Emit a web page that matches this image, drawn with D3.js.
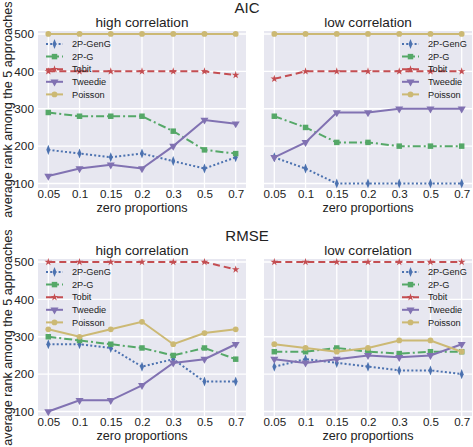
<!DOCTYPE html>
<html><head><meta charset="utf-8">
<script src="https://cdn.jsdelivr.net/npm/d3@7"></script>
<style>
body{margin:0;background:#fff;}
svg{display:block;font-family:"Liberation Sans",Arial,Helvetica,sans-serif;}
</style></head>
<body><svg id="c" width="473" height="447"></svg>
<script>
// ---- data ----
const zeroProps = ["0.05","0.1","0.15","0.2","0.3","0.5","0.7"];
const seriesNames = ["2P-GenG","2P-G","Tobit","Tweedie","Poisson"];
const yTicks = [100,200,300,400,500];

const aicHighGenG    = [190,180,170,180,160,140,170];
const aicHighG       = [290,280,280,280,240,190,180];
const aicHighTobit   = [400,400,400,400,400,400,390];
const aicHighTweedie = [120,140,150,140,200,270,260];
const aicHighPoisson = [500,500,500,500,500,500,500];

const aicLowGenG     = [170,140,100,100,100,100,100];
const aicLowG        = [280,250,210,210,200,200,200];
const aicLowTobit    = [380,400,400,400,400,400,400];
const aicLowTweedie  = [170,210,290,290,300,300,300];
const aicLowPoisson  = [500,500,500,500,500,500,500];

const rmseHighGenG    = [280,280,270,220,240,180,180];
const rmseHighG       = [300,290,280,270,250,270,240];
const rmseHighTobit   = [500,500,500,500,500,500,480];
const rmseHighTweedie = [100,130,130,170,230,240,280];
const rmseHighPoisson = [320,300,320,340,280,310,320];

const rmseLowGenG     = [220,240,230,220,210,210,200];
const rmseLowG        = [260,260,270,260,255,260,260];
const rmseLowTobit    = [500,500,500,500,500,500,500];
const rmseLowTweedie  = [240,230,240,250,245,250,280];
const rmseLowPoisson  = [280,270,260,270,290,290,260];

// ---- styles ----
const colors = ["#4C72B0","#55A868","#C44E52","#8172B2","#CCB974"];
const dashes = ["2,2.2","8,3,2,3","7,4",null,null];
const symbols = [d3.symbolDiamond, d3.symbolSquare, d3.symbolStar, d3.symbolTriangle, d3.symbolCircle];
const symSizes = [24, 30, 18, 28, 26];
const symRot = [0,0,0,180,0];

const panels = [
  {title:"high correlation", x0:38,  y0:31,  legendLeft:true,  data:[aicHighGenG,aicHighG,aicHighTobit,aicHighTweedie,aicHighPoisson], ylab:true},
  {title:"low correlation",  x0:264, y0:31,  legendLeft:false, data:[aicLowGenG,aicLowG,aicLowTobit,aicLowTweedie,aicLowPoisson], ylab:false},
  {title:"high correlation", x0:38,  y0:259, legendLeft:true,  data:[rmseHighGenG,rmseHighG,rmseHighTobit,rmseHighTweedie,rmseHighPoisson], ylab:true},
  {title:"low correlation",  x0:264, y0:259, legendLeft:false, data:[rmseLowGenG,rmseLowG,rmseLowTobit,rmseLowTweedie,rmseLowPoisson], ylab:false}
];
const W = 208, H = 157;

const svg = d3.select("#c");

// suptitles
svg.append("text").attr("x",247).attr("y",13).attr("text-anchor","middle")
  .attr("font-size",15).attr("fill","#222").text("AIC");
svg.append("text").attr("x",247).attr("y",241).attr("text-anchor","middle")
  .attr("font-size",15).attr("fill","#222").text("RMSE");

panels.forEach(p => {
  const g = svg.append("g").attr("transform",`translate(${p.x0},${p.y0})`);
  const x = d3.scalePoint().domain(zeroProps).range([0,W]).padding(0.33);
  const y = d3.scaleLinear().domain([88,508]).range([H,0]);

  g.append("rect").attr("width",W).attr("height",H).attr("fill","#E7E7F0");
  // grid
  g.selectAll(".vg").data(zeroProps).enter().append("line")
    .attr("x1",d=>x(d)).attr("x2",d=>x(d)).attr("y1",0).attr("y2",H)
    .attr("stroke","#fff").attr("stroke-width",1.3);
  g.selectAll(".hg").data(yTicks).enter().append("line")
    .attr("x1",0).attr("x2",W).attr("y1",d=>y(d)).attr("y2",d=>y(d))
    .attr("stroke","#fff").attr("stroke-width",1.3);

  // axes (labels only)
  const xa = g.append("g").attr("transform",`translate(0,${H})`)
    .call(d3.axisBottom(x).tickSize(0).tickPadding(2));
  xa.select(".domain").remove();
  xa.selectAll("text").attr("font-size",11.6).attr("fill","#222")
    .attr("font-family","'Liberation Sans',Arial,sans-serif");
  if (p.ylab) {
    const ya = g.append("g").call(d3.axisLeft(y).tickValues(yTicks).tickSize(0).tickPadding(4));
    ya.select(".domain").remove();
    ya.selectAll("text").attr("font-size",11.8).attr("fill","#222")
      .attr("font-family","'Liberation Sans',Arial,sans-serif");
    svg.append("text").attr("transform",`translate(12,${p.y0+H/2}) rotate(-90)`)
      .attr("text-anchor","middle").attr("font-size",12.6).attr("fill","#222")
      .text("average rank among the 5 approaches");
  }
  g.append("text").attr("x",W/2).attr("y",H+23.5).attr("text-anchor","middle")
    .attr("font-size",12.6).attr("fill","#222").text("zero proportions");
  g.append("text").attr("x",W/2).attr("y",-4).attr("text-anchor","middle")
    .attr("font-size",13.6).attr("fill","#222").text(p.title);

  // series
  const line = d3.line().x((d,i)=>x(zeroProps[i])).y(d=>y(d));
  p.data.forEach((vals,si) => {
    g.append("path").datum(vals).attr("d",line).attr("fill","none")
      .attr("stroke",colors[si]).attr("stroke-width",2)
      .attr("stroke-dasharray",dashes[si]);
    g.selectAll(null).data(vals).enter().append("path")
      .attr("d",d3.symbol().type(symbols[si]).size(symSizes[si]))
      .attr("transform",(d,i)=>`translate(${x(zeroProps[i])},${y(d)}) rotate(${symRot[si]})${si===0?" scale(0.75,1.1)":""}`)
      .attr("fill",colors[si]);
  });

  // legend
  const lx = p.legendLeft ? 8 : 138;
  seriesNames.forEach((name,si) => {
    const ly = 13 + si*12.6;
    const lg = g.append("g").attr("transform",`translate(${lx},${ly})`);
    lg.append("line").attr("x1",0).attr("x2",17).attr("y1",0).attr("y2",0)
      .attr("stroke",colors[si]).attr("stroke-width",2).attr("stroke-dasharray",dashes[si]);
    lg.append("path").attr("d",d3.symbol().type(symbols[si]).size(symSizes[si]))
      .attr("transform",`translate(8.5,0) rotate(${symRot[si]})${si===0?" scale(0.75,1.1)":""}`)
      .attr("fill",colors[si]);
    lg.append("text").attr("x",26).attr("y",0).attr("dy","0.35em")
      .attr("font-size",9.2).attr("fill","#222").text(name);
  });
});
</script></body></html>
